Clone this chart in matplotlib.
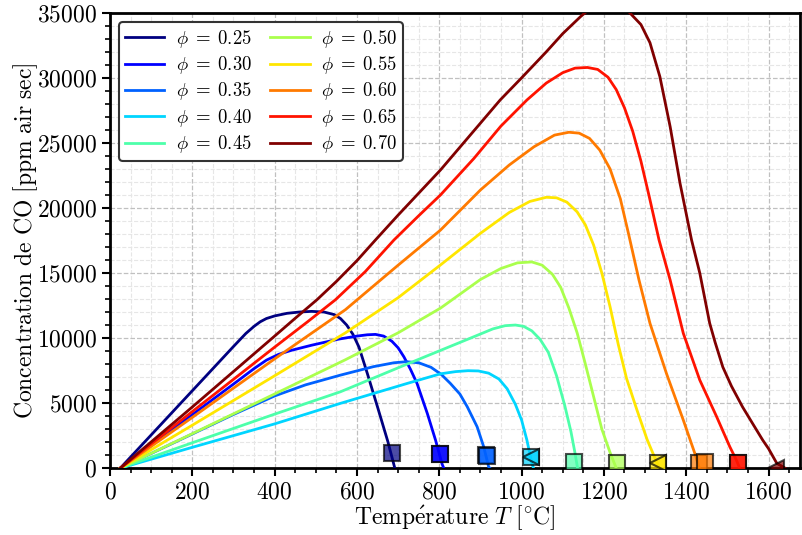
import numpy as np
import matplotlib
matplotlib.use("Agg")
import matplotlib.pyplot as plt
from matplotlib.ticker import MultipleLocator

plt.rcParams['mathtext.fontset'] = 'cm'
plt.rcParams['font.family'] = ['serif']
plt.rcParams['font.serif'] = ['cmr10', 'DejaVu Serif']
plt.rcParams['axes.formatter.use_mathtext'] = True

# ---- data ----
phis = [0.25, 0.30, 0.35, 0.40, 0.45, 0.50, 0.55, 0.60, 0.65, 0.70]

T_025 = [25, 100, 200, 300, 330, 350, 365, 380, 400, 430, 460, 490, 520, 545, 560, 575, 590, 605, 625, 650, 675, 692]
C_025 = [0, 2550, 5950, 9350, 10350, 10900, 11250, 11500, 11700, 11900, 12000, 12050, 12000, 11800, 11500, 11000, 10300, 9300, 7300, 4700, 2050, 0]

T_030 = [25, 100, 200, 300, 350, 380, 410, 440, 490, 556, 600, 625, 645, 665, 685, 700, 714, 730, 746, 771, 791, 807, 811]
C_030 = [0, 1760, 4110, 6460, 7650, 8300, 8750, 9050, 9450, 9920, 10150, 10250, 10280, 10150, 9750, 9250, 8560, 7600, 6510, 4200, 2150, 300, 0]

T_035 = [25, 100, 200, 300, 400, 475, 560, 640, 690, 720, 750, 780, 805, 827, 850, 868, 892, 908, 920, 923]
C_035 = [0, 1125, 2625, 4125, 5550, 6400, 7150, 7800, 8100, 8180, 8100, 7750, 7200, 6510, 5700, 4720, 3180, 1640, 100, 0]

T_040 = [25, 200, 400, 560, 722, 803, 840, 870, 895, 920, 945, 965, 985, 1000, 1013, 1025, 1029]
C_040 = [0, 1600, 3400, 4980, 6510, 7250, 7420, 7490, 7470, 7300, 6850, 6100, 4900, 3700, 2150, 360, 0]

T_045 = [25, 200, 400, 560, 722, 884, 930, 960, 985, 1005, 1025, 1045, 1065, 1085, 1105, 1120, 1130, 1136]
C_045 = [0, 1950, 4150, 5870, 8000, 10100, 10700, 10950, 11000, 10900, 10550, 9900, 8900, 7100, 4800, 2800, 1130, 0]

T_050 = [25, 200, 400, 572, 700, 803, 900, 950, 990, 1025, 1050, 1075, 1095, 1115, 1135, 1155, 1175, 1195, 1215, 1230]
C_050 = [0, 2650, 5700, 8333, 10400, 12300, 14500, 15350, 15780, 15850, 15600, 14900, 13900, 12300, 10400, 8000, 5500, 3000, 1200, 0]

T_055 = [25, 200, 400, 572, 700, 803, 900, 970, 1020, 1060, 1085, 1110, 1135, 1155, 1175, 1195, 1215, 1235, 1255, 1280, 1305, 1325, 1335]
C_055 = [0, 3300, 7100, 10400, 13100, 15620, 18050, 19650, 20500, 20820, 20780, 20450, 19700, 18700, 17150, 15000, 12410, 9500, 6900, 4500, 2200, 700, 0]

T_060 = [25, 200, 400, 572, 700, 803, 900, 970, 1030, 1080, 1115, 1140, 1165, 1190, 1215, 1240, 1260, 1285, 1312, 1352, 1393, 1421, 1432]
C_060 = [0, 3900, 8400, 12180, 15600, 18300, 21380, 23300, 24700, 25600, 25820, 25750, 25350, 24450, 23000, 20700, 18000, 14500, 11130, 7280, 3690, 1130, 0]

T_065 = [25, 200, 400, 480, 548, 620, 690, 750, 803, 884, 950, 1013, 1060, 1100, 1130, 1160, 1185, 1210, 1230, 1250, 1270, 1290, 1310, 1334, 1361, 1393, 1433, 1474, 1506, 1522, 1530]
C_065 = [0, 4350, 9300, 11250, 12950, 15100, 17540, 19400, 21000, 23800, 26300, 28300, 29600, 30400, 30750, 30800, 30650, 30050, 29100, 27700, 25900, 23600, 20900, 17540, 14460, 10360, 6770, 3950, 1640, 615, 0]

T_070 = [25, 200, 400, 450, 503, 550, 600, 645, 700, 803, 948, 1000, 1060, 1100, 1143, 1180, 1210, 1240, 1263, 1290, 1312, 1336, 1361, 1385, 1413, 1433, 1457, 1470, 1489, 1510, 1537, 1560, 1586, 1600, 1620, 1640]
C_070 = [0, 4700, 10150, 11520, 12950, 14350, 15950, 17540, 19450, 22920, 28300, 30000, 32000, 33400, 34700, 35700, 36000, 35700, 35000, 34100, 32700, 30100, 26250, 21900, 17540, 15000, 11150, 9700, 7770, 6300, 4700, 3500, 2150, 1500, 380, 0]

curves_T = [T_025, T_030, T_035, T_040, T_045, T_050, T_055, T_060, T_065, T_070]
curves_C = [C_025, C_030, C_035, C_040, C_045, C_050, C_055, C_060, C_065, C_070]

# square markers: (phi index, T, C)
sq_idx = [0, 1, 1, 2, 2, 3, 4, 5, 6, 7, 7, 8, 8]
sq_T = [686, 801, 801, 914, 916, 1024, 1127, 1231, 1332, 1432, 1445, 1525, 1525]
sq_C = [1130, 1080, 1080, 1000, 950, 820, 490, 410, 410, 385, 500, 410, 430]

# triangle markers
tri_idx = [3, 6, 9]
tri_T = [1024, 1332, 1619]
tri_C = [820, 410, 0]

colors = plt.cm.jet(np.linspace(0, 1, len(phis)))

fig = plt.figure(figsize=(8.03, 5.35), dpi=100)
ax = fig.add_axes([0.137, 0.125, 0.859, 0.851])

for i, phi in enumerate(phis):
    ax.plot(curves_T[i], curves_C[i], color=colors[i], lw=2.0,
            label=r'$\phi\;=\;%.2f$' % phi, zorder=3)

for k in range(len(sq_idx)):
    ax.plot(sq_T[k], sq_C[k], marker='s', ms=11, color=colors[sq_idx[k]],
            mec='black', mew=1.5, alpha=0.7, ls='none', zorder=4)
for k in range(len(tri_idx)):
    ax.plot(tri_T[k], tri_C[k], marker='<', ms=12, color=colors[tri_idx[k]],
            mec='black', mew=1.5, alpha=0.7, ls='none', zorder=4)

ax.set_xlim(0, 1676)
ax.set_ylim(0, 35000)
ax.xaxis.set_major_locator(MultipleLocator(200))
ax.xaxis.set_minor_locator(MultipleLocator(50))
ax.yaxis.set_major_locator(MultipleLocator(5000))
ax.yaxis.set_minor_locator(MultipleLocator(1000))

ax.grid(which='major', ls='--', color='#c0c0c0', lw=0.9)
ax.grid(which='minor', ls='--', color='#e6e6e6', lw=0.8)
ax.set_axisbelow(True)

for s in ax.spines.values():
    s.set_linewidth(2.0)
ax.tick_params(which='major', direction='out', length=6, width=1.5, labelsize=17)
ax.tick_params(which='minor', direction='out', length=3.5, width=1.2)

ax.set_xlabel(r'$\mathrm{Temp\acute{e}rature}\ T\ [^{\circ}\mathrm{C}]$', fontsize=17, labelpad=0)
ax.set_ylabel(r'$\mathrm{Concentration\ de\ CO\ [ppm\ air\ sec]}$', fontsize=17, labelpad=-2)

leg = ax.legend(ncol=2, loc='upper left', fontsize=13.5, framealpha=1,
                edgecolor='#333333', fancybox=True, borderaxespad=0.5,
                handlelength=2.1, handletextpad=0.6, columnspacing=1.0,
                labelspacing=0.23, borderpad=0.3)
leg.get_frame().set_linewidth(1.5)

fig.savefig('out.png', dpi=100)
